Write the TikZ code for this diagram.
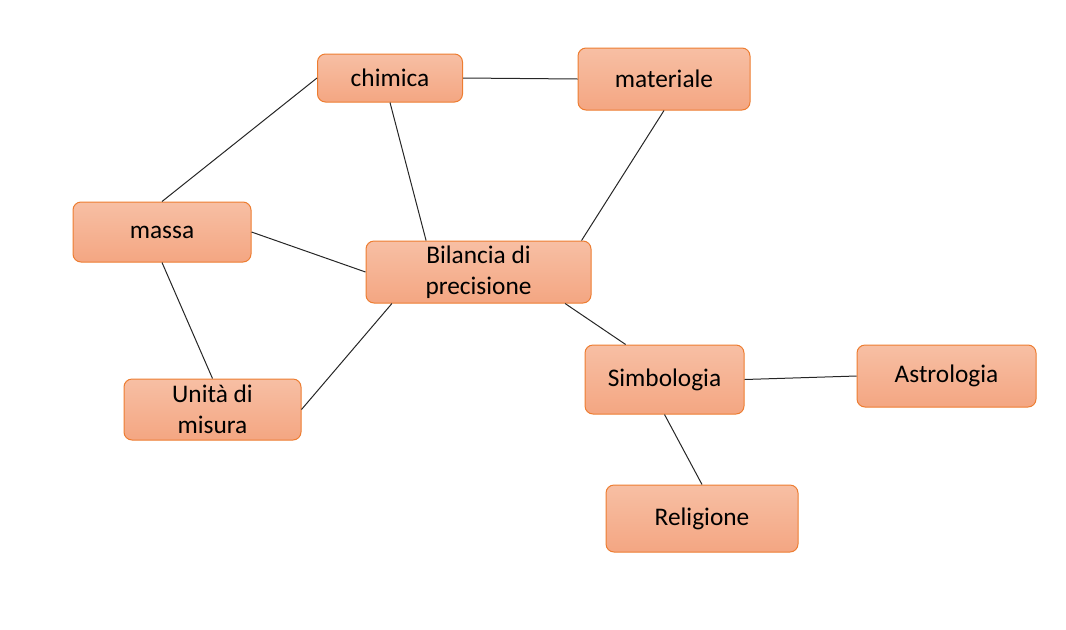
\documentclass[tikz,border=0pt]{standalone}
\usepackage{fontspec}
\setmainfont{Carlito}
\usetikzlibrary{positioning}
\definecolor{peachtop}{HTML}{F7BFA4}
\definecolor{peachbot}{HTML}{F4A682}
\definecolor{orangeline}{HTML}{ED7D31}
\tikzset{concept/.style={draw=orangeline, line width=0.75pt, rounded corners=6pt,
  top color=peachtop, bottom color=peachbot, align=center, inner sep=0pt,
  font=\fontsize{19}{23}\selectfont},
  link/.style={draw=black!85, line width=0.75pt}}
\begin{document}
\begin{tikzpicture}[x=0.75pt, y=-0.75pt]
\useasboundingbox (0,0) rectangle (1066,629);
%% concepts
  \node[concept, minimum width=108.75pt, minimum height=36pt] (chimica) at (390,78) {chimica};
  \node[concept, minimum width=129pt, minimum height=46.5pt] (materiale) at (664,79) {materiale};
  \node[concept, minimum width=133.5pt, minimum height=45pt] (massa) at (162,232) {massa};
  \node[concept, minimum width=168.75pt, minimum height=46.5pt] (bilancia) at (478.5,272) {Bilancia di\\precisione};
  \node[concept, minimum width=132.75pt, minimum height=45.75pt] (unita) at (212.5,409.5) {Unità di\\misura};
  \node[concept, minimum width=119.25pt, minimum height=51.75pt] (simbologia) at (664.5,379.5) {Simbologia};
  \node[concept, minimum width=134.25pt, minimum height=46.5pt] (astrologia) at (946.5,376) {Astrologia};
  \node[concept, minimum width=144pt, minimum height=50.25pt] (religione) at (702,518.5) {Religione};
%% links
  \draw[link] (chimica.east) -- (materiale.west);
  \draw[link] (chimica.west) -- (massa.north);
  \draw[link] (chimica.south) -- (bilancia.149);
  \draw[link] (materiale.south) -- (bilancia.17);
  \draw[link] (massa.east) -- (bilancia.west);
  \draw[link] (massa.south) -- (unita.north);
  \draw[link] (unita.east) -- (bilancia.200);
  \draw[link] (bilancia.-20) -- (simbologia.138);
  \draw[link] (simbologia.east) -- (astrologia.west);
  \draw[link] (simbologia.south) -- (religione.north);
\end{tikzpicture}
\end{document}
